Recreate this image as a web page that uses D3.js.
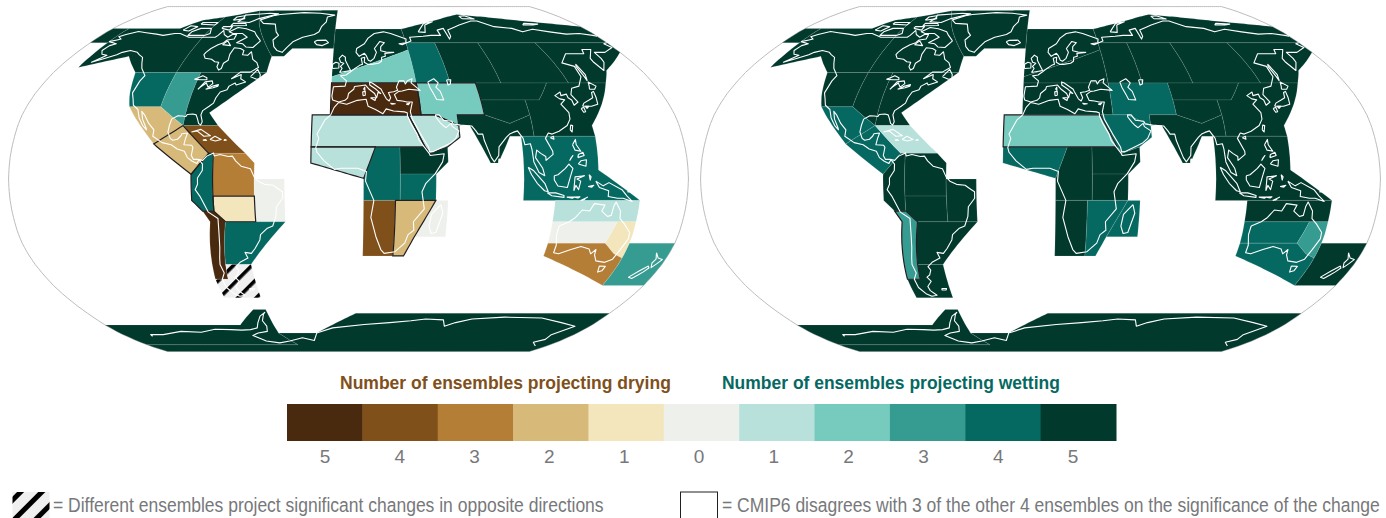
<!DOCTYPE html>
<html>
<head>
<meta charset="utf-8">
<script src="https://cdn.jsdelivr.net/npm/d3@7"></script>
<style>
  html, body { margin: 0; padding: 0; background: #fff; overflow: hidden; }
  svg { display: block; }
  text { font-family: "Liberation Sans", Arial, sans-serif; }
</style>
</head>
<body>
<svg id="chart" width="1386" height="518"></svg>
<script>
// number of ensembles: negative = drying, positive = wetting, null = opposite directions
const regionNames = ['GIC','NWN','NEN','RARW','RAR','WNA','CNA','ENA','NCA','SCA','CAR','NWS','NSA','NES','SAM','SWS','SES','SSA',
  'NEU','WCE','EEU','MED','WSB','ESB','RFE','WCA','ECA','TIB','EAS','ARP','SAS','SEA','SAH','WAF','CAF','NEAF','SEAF','WSAF','ESAF','MDG',
  'NAU','CAU','EAU','SAU','NZ','WAN','EAN']
const dryingPanel = [5,5,5,5,5,4,3,5,-2,-2,-4,4,-3,0,-1,-5,4,null,
  5,2,4,-5,5,5,5,2,5,5,5,1,5,4,1,1,4,5,4,-4,-2,0,
  1,0,-1,-3,3,5,5]
const wettingPanel = [5,5,5,5,5,5,5,5,4,4,1,5,5,5,5,3,5,5,
  5,5,5,5,5,5,5,4,5,5,5,4,5,5,2,4,5,5,5,5,4,4,
  5,4,3,4,5,5,5]
const dryingOutlined = ['SCA','NWS','SAM','ESAF','MED','WCA','ARP','SAH','WAF']
const wettingOutlined = ['SAH','SWS']

// region corners, lon/lat
const GIC = [[-50,58],[-42,58],[-38,62],[-10,62],[-10,85.5],[-82,85]]
const NWN = [[-168,52.5],[-143,58],[-130,50],[-105,50],[-105,80],[-120,78],[-129,73],[-168,73]]
const NEN = [[-105,50],[-50,50],[-50,58],[-82,85],[-105,80]]
const RARW = [[-180,65],[-168,65],[-168,73],[-180,73]]
const RAR = [[40,65],[180,65],[180,74],[95,82],[40,72.6]]
const WNA = [[-130,50],[-105,50],[-105,33.8],[-122.5,33.8],[-125,38.5]]
const CNA = [[-105,50],[-90,50],[-90,25],[-105,33.8]]
const ENA = [[-90,50],[-50,50],[-77,31],[-71,25],[-90,25]]
const NCA = [[-122.5,33.8],[-105,33.8],[-90,25],[-104.4,16.4]]
const SCA = [[-90,25],[-74.5,12],[-83.4,2.2],[-104.4,16.4]]
const CAR = [[-90,25],[-71,25],[-55,12],[-74.5,12]]
const NWS = [[-74.5,12],[-72,12],[-72,-15],[-78,-15],[-83.4,-10],[-83.4,2.2]]
const NSA = [[-72,12],[-55,12],[-50,7.5],[-50,-8],[-72,-8]]
const NES = [[-50,0],[-34,0],[-34,-20],[-50,-20]]
const SAM = [[-72,-8],[-50,-8],[-50,-20],[-66.3,-20],[-72,-15]]
const SWS = [[-78,-15],[-72,-15],[-66.3,-20],[-70.6,-40],[-72,-47],[-79.6,-47],[-74.6,-20]]
const SES = [[-66.3,-20],[-34,-20],[-56,-40],[-70.6,-40]]
const SSA = [[-79.6,-47],[-72,-47],[-70.6,-40],[-56,-40],[-56,-56],[-79.3,-56]]
const NEU = [[-10,48],[40,61.3],[40,72.6],[-10,72.6]]
const WCE = [[-10,45],[40,45],[40,61.3],[-10,48]]
const EEU = [[40,45],[60,45],[60,65],[40,65]]
const MED = [[-10,30],[40,30],[40,45],[-10,45]]
const WSB = [[60,45],[90,45],[90,65],[60,65]]
const ESB = [[90,45],[130,45],[130,65],[90,65]]
const RFE = [[130,45],[152,45],[158.6,51],[180,60],[180,65],[130,65]]
const WCA = [[40,30],[48,30],[60,25],[60,30],[75,30],[75,45],[40,45]]
const ECA = [[75,45],[117,45],[108,37],[75,37]]
const TIB = [[75,37],[100,37],[100,30],[88,26],[75,30]]
const EAS = [[100,37],[108,37],[117,45],[152,45],[132.5,25],[133,20],[100,20]]
const ARP = [[33,30],[48,30],[60,25],[60,19.5],[53,15],[43.6,12],[41,15]]
const SAS = [[60,30],[75,30],[88,26],[100,30],[100,20],[87,20],[79.5,7.5],[75.5,7.5],[66,25],[60,25]]
const SEA = [[93,20],[133,20],[132.5,4.2],[155,-10],[93,-10]]
const SAH = [[-20,30],[33,30],[41,15],[-20,15]]
const WAF = [[-20,15],[14.4,15],[8,0.3],[-20,7.5]]
const CAF = [[14.4,15],[27.5,15],[27.5,-10],[8,-10],[8,0.3]]
const NEAF = [[27.5,15],[41,15],[43.6,12],[53,15],[53,8],[46.5,2.3],[27.5,2.3]]
const SEAF = [[27.5,2.3],[46.5,2.3],[46.5,-10],[27.5,-10]]
const WSAF = [[8,-10],[25,-10],[25,-36],[8,-36]]
const ESAF = [[25,-10],[46.5,-10],[36,-27],[31,-36],[25,-36]]
const MDG = [[46.5,-10],[53,-10],[53,-27],[36,-27]]
const NAU = [[110,-10],[155,-10],[155,-20],[110,-20]]
const CAU = [[110,-20],[145,-20],[141.5,-30],[110,-30]]
const EAU = [[145,-20],[155,-20],[155,-37],[149,-35],[141.5,-30]]
const SAU = [[110,-30],[141.5,-30],[149,-35],[155,-37],[155,-50],[110,-36]]
const NZ = [[155,-30],[180,-30],[180,-50],[155,-50]]
const WAN = [[-180,-70.3],[-80,-70.3],[-64.4,-62],[-56,-62],[-55,-75],[-45,-83],[-180,-83]]
const EAN = [[-180,-83],[-45,-83],[-55,-75],[-25,-75],[5,-64],[180,-64],[180,-90],[-180,-90]]
const regionCorners = {GIC,NWN,NEN,RARW,RAR,WNA,CNA,ENA,NCA,SCA,CAR,NWS,NSA,NES,SAM,SWS,SES,SSA,NEU,WCE,EEU,MED,WSB,ESB,RFE,WCA,ECA,TIB,EAS,ARP,SAS,SEA,SAH,WAF,CAF,NEAF,SEAF,WSAF,ESAF,MDG,NAU,CAU,EAU,SAU,NZ,WAN,EAN}

// coastlines, lon/lat, traced by eye
const coastAmericas = [[-168,65.6],[-164,66.5],[-162,67],[-166,68.3],[-163,69.5],[-157,71.2],[-150,70.5],[-141,69.7],[-135,69],[-128,70],[-124,70],[-115,68],[-108,68],[-100,68],[-96,68],[-95,69],[-94,71.8],[-91,69.5],[-87,68],[-85,69.5],[-82,69.5],[-81.5,67],[-86,66.5],[-87,65],[-90,64],[-93,62],[-94.5,60],[-94.8,58.8],[-92.5,57],[-88,56.5],[-85,55.3],[-82.3,55],[-82,52.8],[-80,51.2],[-78.8,52],[-79,54.5],[-77,56],[-78,59],[-77.5,62.4],[-73,62],[-70,61],[-69.5,58.8],[-66,58.5],[-64.5,60.3],[-61.5,56.5],[-58,54.8],[-56,52.5],[-60,50.2],[-66,50.2],[-70,47],[-65,49],[-64.5,47],[-61,45.5],[-66,44],[-67,45],[-70,43.5],[-70.5,41.8],[-74,40.7],[-75.5,38],[-76,35.5],[-78,34],[-81,32],[-81.4,30],[-80,26.8],[-80.5,25.2],[-81.8,26],[-82.8,28],[-84,30],[-86,30.4],[-89,30.2],[-89.5,29.2],[-91.5,29.5],[-94,29.6],[-97,28],[-97.5,25],[-97.7,22],[-96,19],[-94.5,18.1],[-92,18.6],[-90.5,20],[-90,21.2],[-87,21.5],[-87.7,19],[-88.2,16],[-84,15.8],[-83.2,14.8],[-83.7,11],[-82.5,9.2],[-80,9.2],[-77.5,8.7],[-75.5,10.7],[-72,12.2],[-71.5,10.8],[-68.5,11.5],[-64,10.5],[-61.8,10.7],[-60,8.5],[-57,6],[-52,4.8],[-50,1],[-48,-1],[-44.5,-2.5],[-40,-2.9],[-37,-4.8],[-35,-6],[-35,-9],[-38.5,-13],[-39,-17.5],[-41,-22],[-44,-23],[-48,-26],[-48.7,-28.5],[-52,-32.5],[-54.5,-34.8],[-58,-34.3],[-57,-37],[-62,-39],[-65,-41],[-64,-42.7],[-65.5,-45],[-67.5,-46],[-65.8,-48],[-69,-50.5],[-68.5,-52.5],[-65.5,-54.8],[-69,-55.3],[-72,-54],[-75,-51],[-75.5,-47],[-73,-44],[-73.8,-40],[-73,-37],[-71.5,-32],[-70.5,-25],[-70.2,-18.5],[-75,-15.5],[-79,-8],[-81.3,-5],[-80,-2.5],[-80,0.5],[-77.5,4],[-77.5,7],[-79.5,9],[-80.5,7.3],[-83,8.3],[-85.7,10],[-87.6,13],[-91.5,14],[-95,16],[-100,17],[-105.5,20],[-105.5,23],[-109,26],[-112.5,30],[-114.7,31.7],[-113,28],[-110,24],[-109.5,23],[-112,25],[-115,28.5],[-117.2,32.5],[-120.6,34.5],[-122.5,37.7],[-124.3,40.3],[-124,46],[-123,48.5],[-125,50],[-128,52],[-130.5,54.5],[-133.5,57.5],[-137,58.7],[-140,60],[-146,61],[-150,60],[-152,58.8],[-157,57],[-163,55],[-158,58.5],[-162,59],[-165,61],[-164,63.5],[-161,64.5],[-168,65.6]]
const coastEurasia = [[-5.5,36],[-9,37],[-9.5,38.8],[-8.8,43.2],[-2,43.5],[-1.2,46],[-4.8,48.4],[-1.5,48.8],[1.5,50.5],[4,52],[7,53.5],[8.8,54],[8.2,57],[10.5,57.5],[10,55],[12,54],[14.5,54],[19,54.5],[21,55.5],[21.5,57.5],[24,58],[24,59.5],[30,60],[25,60.2],[21.5,60.8],[22,63],[25,65],[22,65.7],[17.5,62],[18.5,60],[16.5,57],[14,55.5],[12.7,56],[11.5,58.5],[10.5,59.5],[7,58],[5,60],[5.5,62],[11,64.5],[14,67.5],[19,70],[26,71],[31,70],[41,67],[40,65],[35,64.5],[37,64],[44,66],[44,68],[54,68.5],[60,69],[67,69],[67,72],[72.5,73],[72,67],[74,68.5],[75,72],[81,73.5],[87,75],[100,77.5],[105,77.5],[113,74],[125,73],[130,71],[140,72.5],[150,71],[160,69.7],[170,70],[178,69],[180,68.5]]
const coastPacificAsia = [[180,65],[177,64.5],[179,62.5],[170,60],[163,60],[163,57],[162,55],[157,51],[155.5,55],[156,57],[163,61.5],[157,61.5],[155,59.3],[143,59.3],[135,54.7],[141,53],[140,48],[135,43.5],[130,42.5],[127.5,39.5],[129.5,36],[126.5,34.5],[126.5,37],[125,38],[125,39.7],[121.5,39],[122,40.7],[118,39],[120,37.5],[122.5,37],[119.3,35],[122,31],[121.5,28],[119,25],[114,22.3],[110,21],[108,21.5],[106,19],[109,13],[109,11.5],[105,8.7],[105,10.5],[102.5,12],[100.5,13.5],[99.5,10],[103,5],[104,1.5],[101,3],[98.5,8],[98,14],[97.5,16.5],[94.5,16],[94,19],[91.5,22.5],[89,21.8],[87,21],[85,19.5],[80.5,15],[80,11],[77.5,8],[76,10],[73,18],[72.5,21],[70,21],[69,22.5],[67,24.8],[61,25.2],[57,25.8],[56.5,27],[52,27.5],[50,30],[48,30],[48,29],[50,26.5],[51.5,25],[53,24],[56,26],[56.5,24.5],[59.8,22.5],[57.7,19],[55,17],[52,15.7],[45,12.8],[43.3,12.7],[42.8,15],[39,21],[35,28],[34.7,29.5],[34.3,31.5],[36,36],[33,36],[30.5,36.5],[27.5,36.8],[26.3,39.5],[29,41],[31,41.2],[35,42],[41.5,41.5],[37,45],[38,47],[35,46],[33.5,44.5],[33,46],[30,46],[28,43],[28.5,41.5],[26,40.8],[23,40.5],[24,38],[23,36.5],[21.5,37.5],[19.5,41],[19,42],[14,45],[12.5,45.5],[12.5,44],[16,42],[18.5,40],[17,40.5],[16,38],[15,40],[12,42],[10,44],[7,43.7],[3.5,43.3],[3,42],[0,40],[-0.5,38],[-2,36.8],[-5.5,36]]
const coastAfrica = [[-5.5,35.8],[-1,35],[5,36.8],[10,37.3],[11,34],[15,32.5],[19,30.5],[21,32.8],[25,31.8],[31,31.4],[32.5,31],[32.5,29.5],[34,26],[37,21],[38,18],[43,12],[43.5,11],[51,11.8],[50,8],[46,2.5],[41,-2],[39,-6],[40.5,-14],[35,-20],[35.5,-24],[32.5,-26],[31,-30],[26,-34],[20,-34.8],[18,-33],[15,-27],[12,-18],[13.5,-10],[9,-1],[9.5,3.5],[5,5],[-4,5],[-7.5,4.5],[-13,8.5],[-16.8,12.5],[-17.5,14.7],[-16,19],[-17,21],[-13,27.5],[-9.8,30],[-8,33.5],[-5.5,35.8]]
const coastAustralia = [[114,-22],[113.5,-26],[115,-31],[115,-34.5],[118,-35],[124,-33],[129,-31.6],[134,-32.7],[136,-35],[138,-33],[138.5,-35.5],[141,-38.3],[146.5,-39],[150,-37.5],[151.5,-33],[153.5,-28],[153,-25],[149,-21],[146,-18.5],[145.5,-15],[142.5,-10.8],[141.5,-13],[141,-17],[139,-17.5],[135.5,-15],[136.8,-12.2],[131,-11.5],[129,-15],[125,-14.5],[122,-18],[119,-20],[114,-22]]
const coastAntarctica = [[-159,-77],[-158,-76],[-148,-76],[-130,-74],[-115,-74.5],[-102,-72.8],[-90,-73],[-82,-73.3],[-75,-73],[-69,-72],[-66,-69],[-62,-65.5],[-57.5,-63.5],[-59,-64.5],[-62,-68],[-61,-71],[-63,-74],[-71,-75],[-77,-76.5],[-70,-80],[-60,-81.5],[-50,-80],[-38,-78],[-29,-79.7],[-25,-75],[-12,-72],[11.6,-70],[30,-69],[45,-68],[55,-67],[68,-67.5],[71.5,-71],[78,-69],[88,-67],[110,-66],[137,-66.5],[155,-69],[169,-71],[162,-76],[165,-79],[160,-81],[170,-84]]
const coastIslands = [
  [[-62,66],[-65,62.5],[-70,62.8],[-73.5,64.5],[-78,65],[-73,68],[-78,70],[-85,70],[-89,71],[-85,73.5],[-78,72.8],[-70,71],[-67,69],[-62,66]],
  [[-105,69],[-117,69],[-117,71],[-113,73],[-105,73],[-102,70],[-105,69]],
  [[-125,72],[-120,71.5],[-117,74],[-123,74.5],[-125,72]],
  [[-90,77],[-80,76.5],[-75,79],[-62,82.5],[-70,83],[-90,81.5],[-88,79],[-90,77]],
  [[-92,74.5],[-80,74.7],[-82,76],[-92,76],[-92,74.5]],
  [[-117,75.5],[-105,75],[-105,76.5],[-117,76.5],[-117,75.5]],
  [[-97,73],[-90,72],[-90,74],[-97,74],[-97,73]],
  [[-95,78],[-87,79],[-90,81],[-95,80],[-95,78]],
  [[-87,64],[-81,63.5],[-85,66],[-87,64]],
  [[-59,48],[-55,46.8],[-53,47],[-53.5,49],[-56,51.5],[-59,48]],
  [[-92,46.7],[-88,48.5],[-85,47.5],[-84.5,46.5],[-88,46.5],[-92,46.7]],
  [[-87.5,42],[-85,45.5],[-81,46],[-80,44.7],[-82,43],[-84,45],[-86.5,43],[-87.5,42]],
  [[-83,42],[-79,42.7],[-76.5,43.5],[-76.5,44.2],[-79.5,43.5],[-83,42]],
  [[-85,22],[-80,23.2],[-74.5,20.2],[-78,20],[-82,22.5],[-85,22]],
  [[-74.5,18.5],[-72,20],[-68.5,18.5],[-71.5,17.8],[-74.5,18.5]],
  [[-78.3,18.2],[-76.3,18],[-77,18.5],[-78.3,18.2]],
  [[-67,18],[-65.7,18.2],[-66.5,18.5],[-67,18]],
  [[-73,78.2],[-68,76],[-58,75.5],[-54,71],[-51,69],[-53.5,66.5],[-51,63],[-48,61],[-44,60],[-42,62.5],[-39,65.5],[-33,68],[-25,69.5],[-22,71],[-21,74],[-18,77],[-18,80],[-12,81.5],[-25,83],[-40,83.5],[-60,82],[-65,81],[-73,78.2]],
  [[-24,65.5],[-22,64],[-18,63.5],[-14,65],[-16,66.4],[-22,66.3],[-24,65.5]],
  [[-61,-51.5],[-58,-51.5],[-58.5,-52.2],[-61,-52.2],[-61,-51.5]],
  [[-5.5,50],[1.3,51],[0,53],[-2,56],[-2,57.5],[-4,58.6],[-6,57],[-5,55],[-3,54.5],[-5,53],[-4,52],[-5.5,50]],
  [[-10,52],[-6,52.2],[-6,54.5],[-8,55],[-10,54],[-10,52]],
  [[12.5,38],[15.5,38],[15,36.7],[12.5,38]],
  [[8.3,39],[9.6,39.2],[9.7,41],[8.2,40.8],[8.3,39]],
  [[8.7,42],[9.5,41.5],[9.5,43],[8.7,42]],
  [[23.6,35.4],[26.3,35.2],[24.5,35],[23.6,35.4]],
  [[32.4,35],[34.5,35.6],[33.5,34.7],[32.4,35]],
  [[47,45.5],[51,47],[53,45],[51,43],[53,41],[54,37],[50,37.2],[49,39.5],[47.5,43],[47,45.5]],
  [[58.5,46.5],[61,46.5],[60,44.5],[58.5,44],[58.5,46.5]],
  [[52,71],[57,70.7],[60,75],[68,77],[60,76],[55,73],[52,71]],
  [[95,79],[105,78.8],[100,81],[95,80.5],[95,79]],
  [[12,78],[20,77],[25,79],[20,80.3],[12,79.5],[12,78]],
  [[137,75],[145,75],[150,75.5],[140,76],[137,75]],
  [[142,46],[143.5,49],[143,54],[142,53],[142,48],[142,46]],
  [[140,42],[143,42],[145,43.5],[142,45.5],[141,43.5],[140,42]],
  [[131,34],[136,34],[140,35],[141,38],[141.5,41],[140,40.5],[139,38],[136,36.8],[132.5,35.5],[131,34]],
  [[129.7,33],[131.5,33.5],[131.5,31.5],[130.3,31.2],[129.7,33]],
  [[132.5,34],[134.5,34],[133,33],[132.5,34]],
  [[120.2,23],[121,22],[122,25],[121,25.2],[120.2,23]],
  [[108.7,19.3],[110.5,20],[110.5,18.6],[108.7,19.3]],
  [[120,16],[122,18.5],[122,16],[124,13],[121,13.5],[120,16]],
  [[122,7],[126,6],[126.5,9],[123.5,8.5],[122,7]],
  [[122,10],[125.5,11],[125,12.5],[122.5,11.5],[122,10]],
  [[117.5,8.5],[119.5,11],[118.5,10],[117.5,8.5]],
  [[80,9.5],[81.8,7.5],[80.5,6],[79.8,8],[80,9.5]],
  [[95.3,5.5],[98,4],[104,-2],[106,-6],[104,-5.5],[100,-2],[97,2],[95.3,5.5]],
  [[105.5,-6.5],[110,-6.5],[114.5,-7.7],[114.5,-8.6],[108,-7.8],[105.5,-6.5]],
  [[109,1.5],[111,2],[115,5],[117,7],[119,5],[117.5,1],[116,-4],[111,-3.3],[109,-0.5],[109,1.5]],
  [[119.5,-5.5],[120,1],[125,1.5],[121,0],[123,-1],[122,-5],[120.5,-3],[119.5,-5.5]],
  [[127.5,2],[128.5,1],[128,-0.5],[127.5,2]],
  [[127,-3.5],[130,-3],[129,-3.8],[127,-3.5]],
  [[131,-1],[135,-3.2],[138,-1.7],[145,-5],[148,-8],[151,-10.5],[146,-9],[143,-9],[138,-8.2],[138,-5.5],[133,-4],[131,-1]],
  [[116,-8.5],[120,-8.4],[119,-9],[116,-8.5]],
  [[120,-8.5],[123,-8.3],[122,-8.9],[120,-8.5]],
  [[123.5,-10],[127,-8.5],[125,-9.8],[123.5,-10]],
  [[148,-6],[152,-4.5],[152,-5.8],[148,-6]],
  [[49.3,-12],[50.5,-16],[47.5,-25],[45,-25.5],[43.5,-22],[44.5,-16.5],[49.3,-12]],
  [[144.7,-40.7],[148.3,-40.9],[148,-43],[146,-43.6],[144.7,-40.7]],
  [[172.7,-34.5],[175.5,-37],[178.4,-37.7],[177,-39.5],[175.3,-41.5],[173.8,-39.3],[174.7,-37.5],[172.7,-34.5]],
  [[173,-40.7],[174.2,-41.7],[172.7,-43.5],[171,-45],[169,-46.6],[166.5,-46],[170,-43],[173,-40.7]]
]
const coastLines = [coastAmericas, coastEurasia, coastPacificAsia, coastAfrica, coastAustralia, coastAntarctica, ...coastIslands]

// legend
const legendValues = [-5,-4,-3,-2,-1,0,1,2,3,4,5]
const legendColors = ['#4a2a0e','#80501b','#b57e36','#d7ba7a','#f3e6bc','#eef0ec','#b8e1dc','#76cbbe','#369b90','#056962','#01392c']

// Robinson table: latitude, parallel length, distance from equator
const robLat = [0,5,10,15,20,25,30,35,40,45,50,55,60,65,70,75,80,85,90]
const robA = [1,.9986,.9954,.99,.9822,.973,.96,.9427,.9216,.8962,.8679,.835,.7986,.7597,.7186,.6732,.6213,.5722,.5322]
const robB = [0,.062,.124,.186,.248,.31,.372,.434,.4958,.5571,.6176,.6769,.7346,.7903,.8435,.8936,.9394,.9761,1]
let parallel = d3.scaleLinear().domain(robLat).range(robA)
let meridian = d3.scaleLinear().domain(robLat).range(robB)
function robinsonRaw(lambda, phi) {
  let lat = Math.abs(phi) * 180 / Math.PI
  return [0.8487 * lambda * parallel(lat), 1.3523 * meridian(lat) * Math.sign(phi)]
}

let svg = d3.select('#chart')
let color = d3.scaleOrdinal().domain(legendValues).range(legendColors)

// hatch
function addHatch(id, gap, bar) {
  let p = svg.append('defs').append('pattern').attr('id', id)
    .attr('patternUnits', 'userSpaceOnUse')
    .attr('width', gap).attr('height', gap)
    .attr('patternTransform', 'rotate(45)')
  p.append('rect').attr('width', gap).attr('height', gap).attr('fill', '#f0f0f0')
  p.append('rect').attr('width', bar).attr('height', gap).attr('fill', '#000')
}
addHatch('hatch', 13, 3.6)
addHatch('hatchKey', 15, 5)

// straight in lon/lat, not great circles
function densify(ring) {
  let out = []
  for (let i = 0; i < ring.length - 1; i++) {
    let a = ring[i], b = ring[i+1]
    let n = Math.ceil(Math.max(Math.abs(b[0] - a[0]), Math.abs(b[1] - a[1])) / 2) || 1
    for (let k = 0; k < n; k++) out.push([a[0] + (b[0] - a[0]) * k / n, a[1] + (b[1] - a[1]) * k / n])
  }
  out.push(ring[ring.length - 1])
  return out
}

function drawMap(cx, values, outlined) {
  let projection = d3.geoProjection(robinsonRaw).scale(127.5).translate([cx, 179])
  let line = d3.line().x(d => projection(d)[0]).y(d => projection(d)[1])
  let ringPath = c => line(densify(c.concat([c[0]]))) + 'Z'
  let g = svg.append('g')

  let sphere = [[-180,-90],[-180,90],[180,90],[180,-90],[-180,-90]]
  g.append('path').attr('d', line(densify(sphere)))
    .attr('fill', 'none').attr('stroke', '#bdbdbd').attr('stroke-width', 1)

  let regions = regionNames.map((name, i) => ({name: name, value: values[i]}))

  g.selectAll('.region').data(regions).enter().append('path')
    .attr('class', 'region')
    .attr('d', d => ringPath(regionCorners[d.name]))
    .attr('fill', d => d.value === null ? 'url(#hatch)' : color(d.value))
    .attr('stroke', 'rgba(255,255,255,.2)')
    .attr('stroke-width', 0.6)

  g.selectAll('.outlined').data(regions.filter(d => outlined.includes(d.name))).enter().append('path')
    .attr('class', 'outlined')
    .attr('d', d => ringPath(regionCorners[d.name]))
    .attr('fill', 'none')
    .attr('stroke', '#231f20')
    .attr('stroke-width', 1.2)

  g.selectAll('.coast').data(coastLines).enter().append('path')
    .attr('class', 'coast')
    .attr('d', d => line(d))
    .attr('fill', 'none')
    .attr('stroke', '#fff')
    .attr('stroke-width', 1.1)
    .attr('stroke-linejoin', 'round')
}

drawMap(348.5, dryingPanel, dryingOutlined)
drawMap(1040.5, wettingPanel, wettingOutlined)

// colour key
let keyX = d3.scaleBand().domain(legendValues).range([287, 1116])
svg.selectAll('.key').data(legendValues).enter().append('rect')
  .attr('class', 'key')
  .attr('x', d => keyX(d))
  .attr('y', 404)
  .attr('width', keyX.bandwidth() + 0.5)
  .attr('height', 37)
  .attr('fill', d => color(d))

// the labels run a little tighter than the swatches
let keyLabelX = d3.scaleBand().domain(legendValues).range([287.5, 1110.5])
let keyAxis = svg.append('g').attr('transform', 'translate(0,441)')
  .call(d3.axisBottom(keyLabelX).tickSize(0).tickPadding(8.5).tickFormat(d => Math.abs(d)))
keyAxis.select('.domain').remove()
keyAxis.selectAll('text').attr('font-size', 19).attr('fill', '#77787b')
  .style('font-family', '"Liberation Sans", Arial, sans-serif')

// squeeze a text to its measured width in the reference
function note(x, y, str, width, size, fill, weight) {
  let t = svg.append('text').text(str)
    .attr('font-size', size).attr('font-weight', weight).attr('fill', fill)
  let natural = t.node().getComputedTextLength()
  t.attr('transform', `translate(${x},${y}) scale(${width / natural},1)`)
}
note(340, 389, 'Number of ensembles projecting drying', 331, 19, '#80501b', 'bold')
note(722, 389, 'Number of ensembles projecting wetting', 338, 19, '#056962', 'bold')

// bottom notes
svg.append('rect').attr('x', 12.5).attr('y', 492).attr('width', 37).attr('height', 26).attr('fill', 'url(#hatchKey)')
note(53, 512, '= Different ensembles project significant changes in opposite directions', 551, 20, '#77787b', 'normal')
svg.append('rect').attr('x', 680.5).attr('y', 492).attr('width', 37).attr('height', 40)
  .attr('fill', '#fff').attr('stroke', '#231f20').attr('stroke-width', 1)
note(722, 512, '= CMIP6 disagrees with 3 of the other 4 ensembles on the significance of the change', 658, 20, '#77787b', 'normal')
</script>
</body>
</html>
